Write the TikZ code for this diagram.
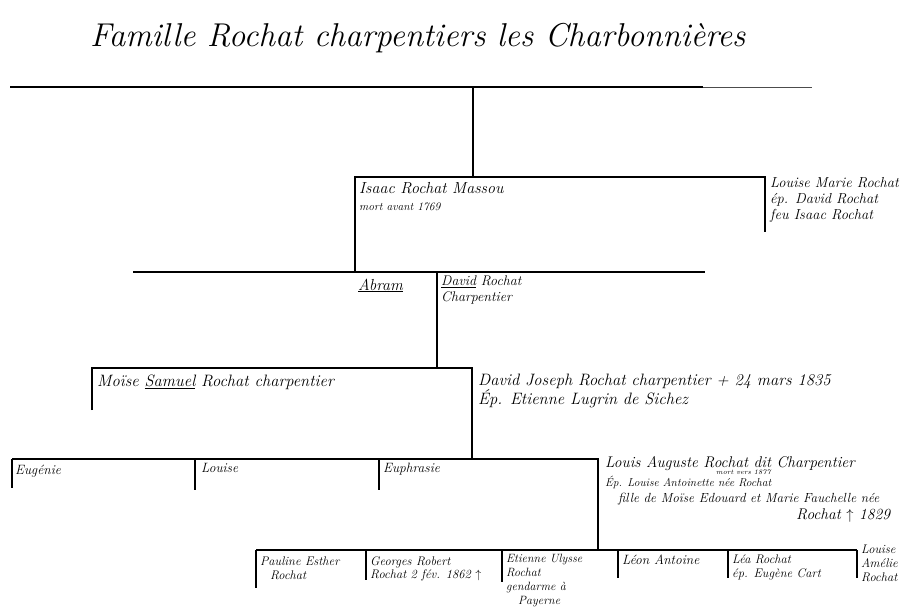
\documentclass[tikz,border=0pt]{standalone}
\usepackage{fontspec}
\begin{document}
\begin{tikzpicture}[x=1pt,y=-1pt,
  hand/.style={anchor=base west,inner sep=0pt,font=\fontsize{16}{18}\selectfont\itshape},
  handr/.style={anchor=base west,inner sep=0pt,font=\fontsize{15.5}{17}\selectfont\itshape},
  handm/.style={anchor=north west,inner sep=0pt,align=left,font=\fontsize{14.5}{16}\selectfont\itshape},
  hands/.style={anchor=base west,inner sep=0pt,font=\fontsize{13.5}{14}\selectfont\itshape},
  handsm/.style={anchor=north west,inner sep=0pt,align=left,font=\fontsize{12.5}{13.8}\selectfont\itshape},
  handt/.style={anchor=base west,inner sep=0pt,font=\fontsize{7}{8}\selectfont\itshape},
  rule/.style={line width=1.2pt,black},
  thick rule/.style={line width=2pt,black},
  thin rule/.style={line width=0.8pt,black!70}]
\useasboundingbox (0,0) rectangle (907,607);

% title
\node[anchor=base west,inner sep=0pt,font=\fontsize{33}{36}\selectfont\itshape] (title) at (90,47) {Famille Rochat charpentiers les Charbonnières};

% junction coordinates
\coordinate (t0) at (10,87);
\coordinate (t1) at (703,87);
\coordinate (t2) at (812,87);
\coordinate (tj) at (473,87);
\coordinate (ij) at (473,177);
\coordinate (il) at (355,177);
\coordinate (ir) at (765,177);
\coordinate (irb) at (765,232);
\coordinate (g0) at (133,272);
\coordinate (gj) at (355,272);
\coordinate (gd) at (437,272);
\coordinate (g1) at (705,272);
\coordinate (md) at (437,368);
\coordinate (m0) at (92,368);
\coordinate (m0b) at (92,410);
\coordinate (m1) at (472,368);
\coordinate (e1) at (472,459);
\coordinate (e0) at (12,459);
\coordinate (e0b) at (12,488);
\coordinate (el) at (195,459);
\coordinate (elb) at (195,490);
\coordinate (ee) at (379,459);
\coordinate (eeb) at (379,490);
\coordinate (er) at (598,459);
\coordinate (erb) at (598,550);
\coordinate (b0) at (256,550);
\coordinate (b1) at (366,550);
\coordinate (b2) at (502,550);
\coordinate (b3) at (618,550);
\coordinate (b4) at (728,550);
\coordinate (b5) at (857,550);

% lines
\draw[thick rule] (t0) -- (t1);
\draw[thin rule] (t1) -- (t2);
\draw[rule] (tj) -- (ij);
\draw[rule] (gj) -- (il) -- (ir) -- (irb);
\draw[rule] (g0) -- (g1);
\draw[rule] (gd) -- (md);
\draw[rule] (m0b) -- (m0) -- (m1) -- (e1);
\draw[rule] (e0) -- (er) -- (erb);
\draw[rule] (e0) -- (e0b);
\draw[rule] (el) -- (elb);
\draw[rule] (ee) -- (eeb);
\draw[rule] (b0) -- (b5);
\draw[rule] (b0) -- ++(0,38);
\draw[rule] (b1) -- ++(0,30);
\draw[rule] (b2) -- ++(0,32);
\draw[rule] (b3) -- ++(0,28);
\draw[rule] (b4) -- ++(0,28);
\draw[rule] (b5) -- ++(0,28);

% texts
\node[hand] (isaac) at (359,193) {Isaac Rochat Massou};
\node[anchor=base west,inner sep=0pt,font=\fontsize{11.5}{12}\selectfont\itshape] (isaacd) at (359,210) {mort avant 1769};
\node[handm] (louisem) at (770,177) {Louise Marie Rochat\\ép. David Rochat\\feu Isaac Rochat};
\node[hand] (abram) at (358,290) {\underline{Abram}};
\node[handm,font=\fontsize{14}{15.5}\selectfont\itshape] (david) at (441,276) {\underline{David} Rochat\\Charpentier};
\node[hand,font=\fontsize{16.5}{18}\selectfont\itshape] (moise) at (97,386) {Moïse \underline{Samuel} Rochat charpentier};
\node[handm,font=\fontsize{16.5}{17.5}\selectfont\itshape] (dj) at (478,374) {David Joseph Rochat charpentier + 24 mars 1835\\Ép. Etienne Lugrin de Sichez};
\node[hands] (eug) at (15,474) {Eugénie};
\node[hands] (lou) at (201,472) {Louise};
\node[hands] (euph) at (383,472) {Euphrasie};
\node[handr] (la) at (605,467) {Louis Auguste Rochat dit Charpentier};
\node[handt] (lam) at (716,474) {mort vers 1877};
\node[anchor=base west,inner sep=0pt,font=\fontsize{11.5}{12}\selectfont\itshape] (la2) at (605,486) {Ép. Louise Antoinette née Rochat};
\node[anchor=base west,inner sep=0pt,font=\fontsize{13.2}{14}\selectfont\itshape] (la3) at (618,502) {fille de Moïse Edouard et Marie Fauchelle née};
\node[handr] (la4) at (796,519) {Rochat $\uparrow$ 1829};
\node[handsm] (paul) at (260,557) {Pauline Esther\\\hspace*{10pt}Rochat};
\node[handsm] (geo) at (370,556) {Georges Robert\\Rochat 2 fév. 1862 $\uparrow$};
\node[handsm,font=\fontsize{12}{14}\selectfont\itshape] (eti) at (506,554) {Etienne Ulysse\\Rochat\\gendarme à\\\hspace*{12pt}Payerne};
\node[hands] (leon) at (622,564) {Léon Antoine};
\node[handsm] (lea) at (732,555) {Léa Rochat\\ép. Eugène Cart};
\node[handsm] (lam2) at (861,545) {Louise\\Amélie\\Rochat};
\end{tikzpicture}
\end{document}
